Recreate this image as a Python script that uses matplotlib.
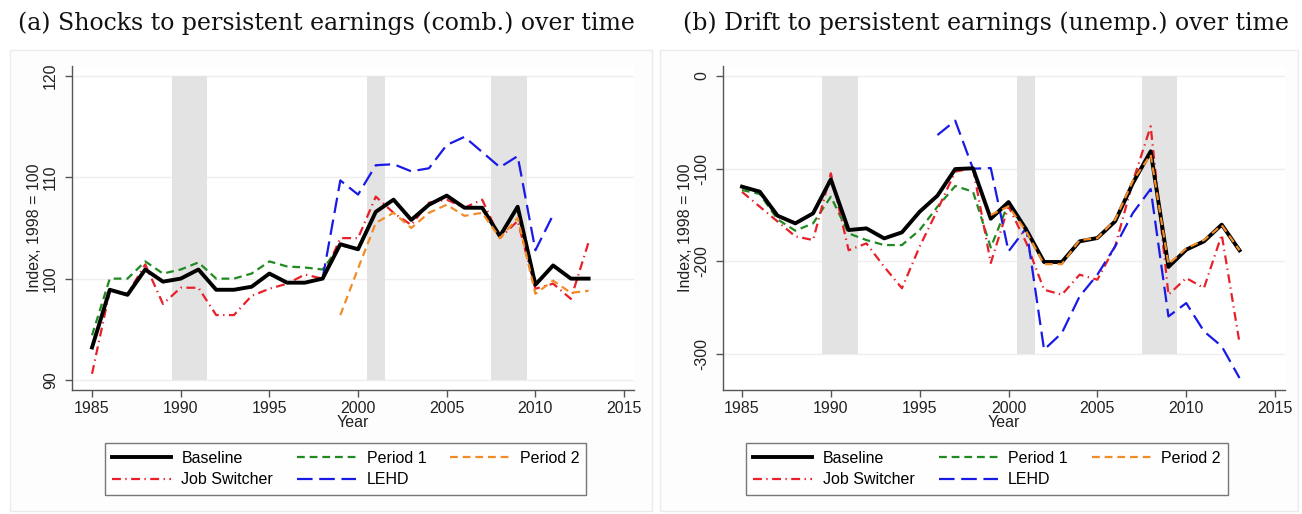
import matplotlib
matplotlib.use("Agg")
import matplotlib.pyplot as plt
from matplotlib.patches import Rectangle
import numpy as np

years = list(range(1985, 2014))

# Panel (a) values
a_baseline = [93.2, 98.9, 98.4, 100.9, 99.7, 100.0, 100.9, 98.9, 98.9, 99.2, 100.5, 99.6, 99.6, 100.0,
              103.4, 102.9, 106.6, 107.8, 105.8, 107.3, 108.2, 107.0, 107.0, 104.2, 107.1, 99.4, 101.3, 100.0, 100.0]
a_period1_years = list(range(1985, 2001))
a_period1 = [94.4, 100.0, 100.0, 101.7, 100.5, 100.9, 101.6, 100.0, 100.0, 100.5, 101.7, 101.2, 101.1, 100.9,
             103.3, 102.9]
a_period2_years = list(range(1999, 2014))
a_period2 = [96.4, 101.0, 105.5, 106.5, 105.0, 106.5, 107.3, 106.2, 106.5, 104.0, 106.0, 98.5, 99.8, 98.6, 98.8]
a_jobsw = [90.6, 98.8, 98.5, 101.4, 97.5, 99.1, 99.1, 96.4, 96.4, 98.3, 99.0, 99.5, 100.4, 100.0,
           104.0, 104.0, 108.1, 106.5, 105.3, 107.5, 107.8, 107.0, 107.8, 104.0, 105.7, 99.0, 99.5, 98.0, 103.6]
a_lehd_years = list(range(1998, 2012))
a_lehd = [100.0, 109.7, 108.3, 111.2, 111.3, 110.6, 110.9, 113.2, 114.0, 112.5, 111.0, 112.1, 102.8, 106.3]

# Panel (b) values
b_baseline = [-119.4, -124.8, -150.7, -159.0, -148.2, -111.5, -166.2, -164.4, -175.2, -168.7, -146.4, -129.1,
              -100.4, -99.6, -154.0, -136.0, -165.8, -200.7, -200.7, -178.4, -174.8, -156.8, -115.5, -81.3,
              -206.0, -187.4, -178.4, -160.4, -188.1]
b_period1_years = list(range(1985, 2001))
b_period1 = [-123.0, -127.3, -154.7, -166.9, -159.0, -130.2, -169.8, -177.0, -182.4, -182.4, -166.2, -141.0,
             -118.7, -124.8, -185.0, -137.0]
b_period2_years = list(range(1999, 2014))
b_period2 = [-150.0, -140.6, -168.0, -203.0, -203.0, -177.0, -175.0, -155.0, -113.0, -85.0, -203.0, -186.0,
             -177.0, -161.0, -188.0]
b_jobsw = [-125.0, -141.0, -157.0, -173.0, -177.0, -105.0, -188.0, -180.6, -205.8, -229.0, -184.0, -144.6,
           -103.2, -99.3, -201.8, -140.6, -180.0, -230.6, -236.0, -214.4, -219.8, -183.8, -113.7, -54.3,
           -236.0, -218.0, -228.8, -171.2, -288.0]
b_lehd_years = list(range(1996, 2014))
b_lehd = [-63.7, -48.2, -100.0, -99.3, -189.2, -164.0, -295.3, -277.3, -237.8, -214.4, -183.8, -147.8, -121.9,
          -259.4, -245.0, -275.5, -291.7, -325.9]

recession_years = [1990, 1991, 2001, 2008, 2009]

titles = ["(a) Shocks to persistent earnings (comb.) over time",
          "(b) Drift to persistent earnings (unemp.) over time"]
xticks = [1985, 1990, 1995, 2000, 2005, 2010, 2015]
a_yticks = [90, 100, 110, 120]
b_yticks = [0, -100, -200, -300]

labels = ["Baseline", "Period 1", "Period 2", "Job Switcher", "LEHD"]

plt.rcParams['font.family'] = ['Liberation Sans', 'DejaVu Sans']

W, H = 1302, 514
fig = plt.figure(figsize=(W / 100, H / 100), dpi=100)
fig.patch.set_facecolor('white')

# panel backgrounds
for (x0, x1) in [(10, 652), (660, 1298)]:
    fig.patches.append(Rectangle((x0 / W, 1 - 511 / H), (x1 - x0) / W, (511 - 50) / H,
                                 transform=fig.transFigure, facecolor='#fdfdfd',
                                 edgecolor='#ebebeb', linewidth=1.0, zorder=-5))

styles = {
    "Baseline": dict(color='black', lw=2.8, ls='-'),
    "Period 1": dict(color='#1f8a1f', lw=1.6, ls=(0, (3.5, 2.2))),
    "Period 2": dict(color='#f28c28', lw=1.6, ls=(0, (3.5, 2.2))),
    "Job Switcher": dict(color='#e8202a', lw=1.6, ls=(0, (4, 2, 0.6, 2))),
    "LEHD": dict(color='#1a1ae6', lw=1.6, ls=(0, (7, 3))),
}


def panel(ax, base, p1y, p1, p2y, p2, js, ly, lehd, xlim, ylim, yticks, shade_lo, shade_hi):
    for yr in recession_years:
        ax.fill_between([yr - 0.5, yr + 0.5], shade_lo, shade_hi, color='#e3e3e3', lw=0, zorder=1)
    for t in yticks:
        ax.axhline(t, color='#eeeeee', lw=1.0, zorder=0.5)
    hs = {}
    hs["Period 1"], = ax.plot(p1y, p1, zorder=3, **styles["Period 1"])
    hs["Job Switcher"], = ax.plot(years, js, zorder=4, **styles["Job Switcher"])
    hs["LEHD"], = ax.plot(ly, lehd, zorder=4, **styles["LEHD"])
    hs["Baseline"], = ax.plot(years, base, zorder=5, **styles["Baseline"])
    hs["Period 2"], = ax.plot(p2y, p2, zorder=6, **styles["Period 2"])
    ax.set_xlim(*xlim)
    ax.set_ylim(*ylim)
    ax.set_xticks(xticks)
    ax.set_yticks(yticks)
    ax.set_yticklabels([str(t) for t in yticks], rotation=90, va='center')
    ax.tick_params(axis='both', labelsize=11.5, color='#555555', length=5, width=1.0,
                   labelcolor='#222222', pad=3)
    ax.tick_params(axis='y', pad=5)
    for s in ['top', 'right']:
        ax.spines[s].set_visible(False)
    for s in ['left', 'bottom']:
        ax.spines[s].set_color('#555555')
        ax.spines[s].set_linewidth(1.0)
    ax.set_facecolor('white')
    ax.set_xlabel("Year", fontsize=11.5, color='#222222', labelpad=-1)
    ax.set_ylabel("Index, 1998 = 100", fontsize=11.5, color='#222222', labelpad=1)
    order = ["Baseline", "Job Switcher", "Period 1", "LEHD", "Period 2"]
    return [hs[k] for k in order], order


def legend(h, l, cx):
    leg = fig.legend(h, l, ncol=3, loc='center', bbox_to_anchor=(cx / W, 1 - 469 / H),
                     fontsize=11.5, frameon=True, fancybox=False, handlelength=3.7,
                     columnspacing=1.5, handletextpad=0.65, labelspacing=0.42, borderpad=0.45,
                     borderaxespad=0)
    leg.get_frame().set_edgecolor('#555555')
    leg.get_frame().set_linewidth(1.0)
    leg.get_frame().set_facecolor('white')
    return leg


ax1 = fig.add_axes([72 / W, 1 - 390 / H, (634 - 72) / W, (390 - 66) / H])
h, l = panel(ax1, a_baseline, a_period1_years, a_period1, a_period2_years, a_period2, a_jobsw,
             a_lehd_years, a_lehd, (1983.87, 2015.56), (89.0, 121.0), a_yticks, 90, 120)
legend(h, l, (107 + 584) / 2)

ax2 = fig.add_axes([723 / W, 1 - 390 / H, (1285 - 723) / W, (390 - 66) / H])
h, l = panel(ax2, b_baseline, b_period1_years, b_period1, b_period2_years, b_period2, b_jobsw,
             b_lehd_years, b_lehd, (1983.93, 2015.56), (-338.8, 10.8), b_yticks, -300, 0)
legend(h, l, (757 + 1217) / 2)

fig.text(18 / W, 1 - 30 / H, titles[0], fontsize=17, family=['DejaVu Serif'],
         ha='left', va='baseline', color='#111111')
fig.text(683 / W, 1 - 30 / H, titles[1], fontsize=17, family=['DejaVu Serif'],
         ha='left', va='baseline', color='#111111')

fig.savefig("out.png", dpi=100, facecolor='white')
